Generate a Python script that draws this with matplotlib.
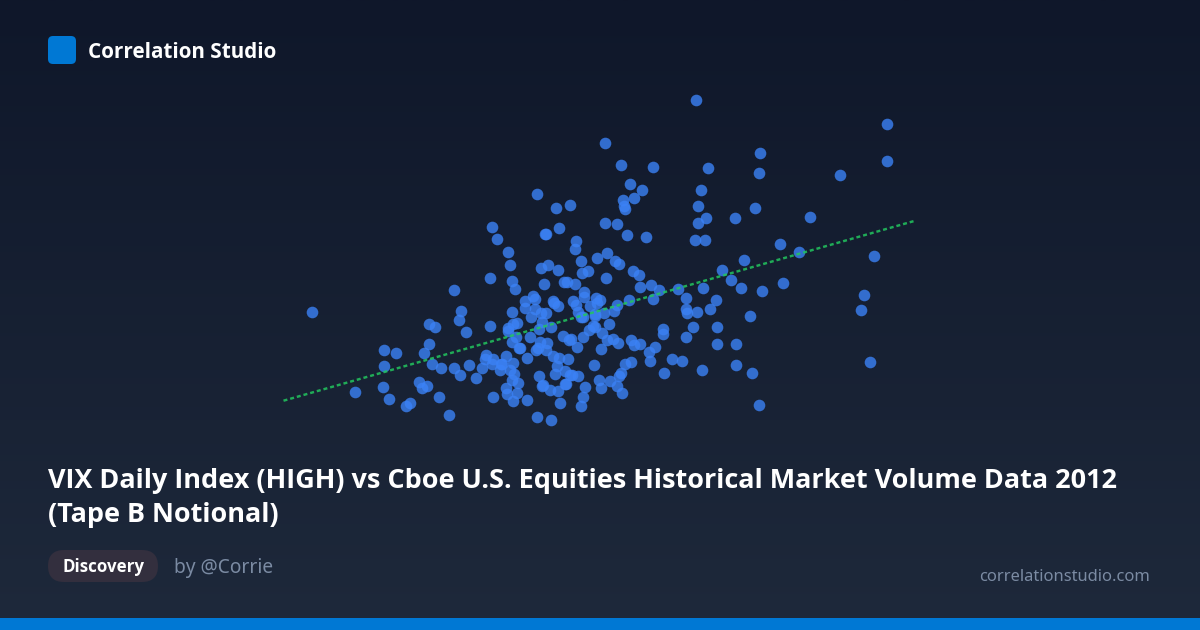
import matplotlib
matplotlib.use('Agg')
import matplotlib.pyplot as plt
import numpy as np
from matplotlib.patches import FancyBboxPatch, Rectangle

# values, in the picture's own plot units
vix_high = [312.7, 355.3, 384.3, 396.7, 384, 383.7, 389.3, 406.3, 410, 419, 422, 427, 424.7, 429, 432, 441,
            439.7, 449.7, 429, 435, 459.3, 461.7, 466.7, 454, 454.3, 460.3, 469, 476.3, 482.3, 486.7, 485.3, 493,
            492.7, 493, 490, 490.7, 501.3, 502.7, 500.7, 506, 513.3, 510, 514.7, 512, 506.7, 507.3, 517, 513.7,
            518.7, 512.3, 510.7, 512, 515.3, 508.7, 508.7, 513.3, 517.3, 516, 512.3, 519, 544.3, 541.3, 548, 558.7,
            564.7, 567.3, 575, 582, 588, 581.7, 597, 606.7, 615, 619.3, 633, 639.3, 640.7, 651.3, 659, 653.7,
            678.7, 629.3, 617, 614.7, 604.3, 609, 595, 595, 596.7, 600.7, 590.3, 597.3, 584, 584, 573, 576,
            578.7, 581, 583.3, 553.3, 554, 558.7, 533, 525, 535.3, 525, 535, 531.7, 541.7, 546.7, 542, 539.3,
            551.7, 530, 520, 540, 547, 538.7, 536, 546, 527.3, 553, 559.3, 568, 563, 569.3, 571.7, 577.7,
            583.3, 589, 593.3, 595.7, 602.3, 607.7, 613.3, 618, 601.3, 631, 634.7, 640, 655, 649.3, 650.3, 663,
            663.7, 672, 664.3, 682.3, 631, 625.3, 621.7, 619.3, 610.3, 617.7, 622, 601.7, 599, 594, 585, 583,
            581.3, 560, 565.7, 566.3, 558, 550.3, 543.3, 542, 539.3, 555.3, 557, 565.7, 570, 572.7, 578.7, 527,
            537.7, 551.3, 605.3, 621.7, 653.3, 630.3, 642, 634.7, 623, 624.7, 625, 537.7, 556, 570.7, 605.7, 617,
            627.7, 646.7, 545.7, 546, 559.3, 492.3, 497.3, 508, 576.3, 575.3, 607, 696.7, 887, 887, 760, 759,
            840.7, 708, 701.3, 698.7, 755.3, 706.3, 698, 735.7, 810.7, 695.7, 705, 780, 799, 874.3, 744.3, 722.7,
            731.3, 741.7, 762.3, 783.7, 864, 861.3, 750, 870.3, 703, 686.7, 716.7, 710.7, 697.7, 686.3, 687.3, 693.3,
            717, 686, 717.7, 736, 702, 736.3, 752.7, 759.3]
tape_b_notional = [312.3, 392.3, 350, 353.3, 366, 387.3, 398.7, 405.7, 403.3, 382.3, 388, 386.3, 353.3, 344, 364, 368.3,
                   396.7, 414.7, 324.3, 326.7, 320.3, 311.3, 331.7, 289.7, 368, 374.7, 365.3, 378.3, 367.7, 354.7, 358.7, 359.3,
                   363.7, 396.7, 278.3, 326, 363.7, 363.7, 370, 355.7, 363, 370, 374, 380, 387.7, 394.3, 393, 401,
                   382.7, 312.3, 265.3, 281, 288.7, 328, 331.3, 324, 322.7, 337.3, 341.7, 347.7, 284, 268, 264.7, 269.7,
                   282.3, 282.3, 283.7, 273.3, 270.7, 261, 257.7, 278, 261, 263.7, 271, 274.7, 287, 284.7, 290, 298.7,
                   289.3, 300.3, 305, 311.3, 313.3, 323.7, 314.3, 316, 297.7, 300, 305.7, 303.3, 292.3, 296.7, 300.7, 305,
                   311.7, 317.3, 317.3, 300.7, 302.7, 306, 295.7, 300.7, 299.3, 308.3, 309.3, 317.3, 312.7, 312.7, 322, 328.7,
                   326.7, 336.7, 348, 342, 342.7, 348, 350, 350, 358.3, 356.3, 358.3, 359, 336, 340, 339, 346.7,
                   337.3, 329.7, 325.7, 326.7, 333, 339.7, 338.7, 342.7, 349.3, 340.3, 345, 344.3, 346.7, 351.7, 361.3, 329,
                   334, 359.3, 373.3, 361.3, 362.3, 364.3, 373, 375.7, 381.3, 386.3, 392.7, 388, 380, 365.3, 386.7, 397.3,
                   406, 403.3, 384.3, 383.7, 391, 390.3, 385, 386, 376.3, 374.3, 366, 370.7, 374.7, 374.7, 376.3, 400,
                   417.3, 419.7, 142.7, 165.3, 166.7, 184, 189.7, 197.7, 200.3, 206, 208.7, 193.7, 208.3, 205.3, 223, 224.3,
                   234.7, 237.3, 234, 234, 228.3, 227.3, 239.3, 252.3, 240.7, 249.3, 253.3, 100, 123.7, 160.7, 153, 173,
                   175.3, 168.3, 190, 206.3, 208.3, 217.7, 222.7, 218, 217.3, 239.7, 239.7, 243.7, 252, 256.3, 259.7, 270,
                   280, 288, 291.3, 282.7, 295.3, 310.3, 316.3, 362.3, 288.3, 298, 300.3, 308.7, 311.7, 309, 312.7, 327.3,
                   327, 337.3, 344, 344.3, 370.3, 364.7, 373, 405]
trend_x = [284, 914]
trend_y = [400.7, 221.2]

title_lines = ['VIX Daily Index (HIGH) vs Cboe U.S. Equities Historical Market Volume Data 2012',
               '(Tape B Notional)']

plt.rcParams['font.family'] = ['Noto Sans', 'DejaVu Sans']
fig = plt.figure(figsize=(12, 6.3), dpi=100)
ax = fig.add_axes([0, 0, 1, 1])
ax.set_xlim(0, 1200)
ax.set_ylim(630, 0)
ax.axis('off')

# background
grad = np.linspace(0, 1, 256).reshape(-1, 1)
top = np.array([15, 23, 42]) / 255
bottom = np.array([30, 41, 59]) / 255
img = (top + (bottom - top) * grad[..., None]).reshape(256, 1, 3)
ax.imshow(img, extent=[0, 1200, 630, 0], aspect='auto', zorder=0)
ax.add_patch(Rectangle((0, 618), 1200, 12, color='#0078d4', lw=0, zorder=1))

# logo
ax.add_patch(FancyBboxPatch((48 + 5, 36 + 5), 18, 18, boxstyle='round,pad=5,rounding_size=5',
                            fc='#0078d4', ec='none', zorder=1))
bold = ['Open Sans', 'DejaVu Sans']
ax.text(88, 52.5, 'Correlation Studio', color='white', family=bold, fontsize=14.9, fontweight='bold', va='center', zorder=5)

# plot area, half a pixel over from the frame
pax = fig.add_axes([0, 0, 1, 1])
pax.set_xlim(0.5, 1200.5)
pax.set_ylim(630, 0)
pax.axis('off')
pax.scatter(vix_high, tape_b_notional, s=70, color='#3b82f6', alpha=0.8, linewidths=0, zorder=2)
pax.plot(trend_x, trend_y, color='#22c55e', alpha=0.85, lw=1.75, linestyle=(0, (1.65, 1.2)), zorder=3)

pax.text(48, 480.5, title_lines[0], color='white', family=bold, fontsize=19.47, fontweight='bold', va='center', zorder=5)
pax.text(48, 514.5, title_lines[1], color='white', family=bold, fontsize=19.47, fontweight='bold', va='center', zorder=5)

# tag and footer
ax.add_patch(FancyBboxPatch((48 + 16, 550 + 16), 78, 0, boxstyle='round,pad=16,rounding_size=16',
                            fc='#332f3e', ec='none', zorder=1))
pax.text(103.5, 567.5, 'Discovery', color='white', family=bold, fontsize=12.2, fontweight='bold', va='center', ha='center', zorder=5)
pax.text(174, 568, 'by @Corrie', color='#7b8ba3', fontsize=13.8, va='center', zorder=5)
pax.text(1151, 577, 'correlationstudio.com', color='#7b8ba3', fontsize=11.9, va='center', ha='right', zorder=5)

fig.savefig('out.png', dpi=100)
